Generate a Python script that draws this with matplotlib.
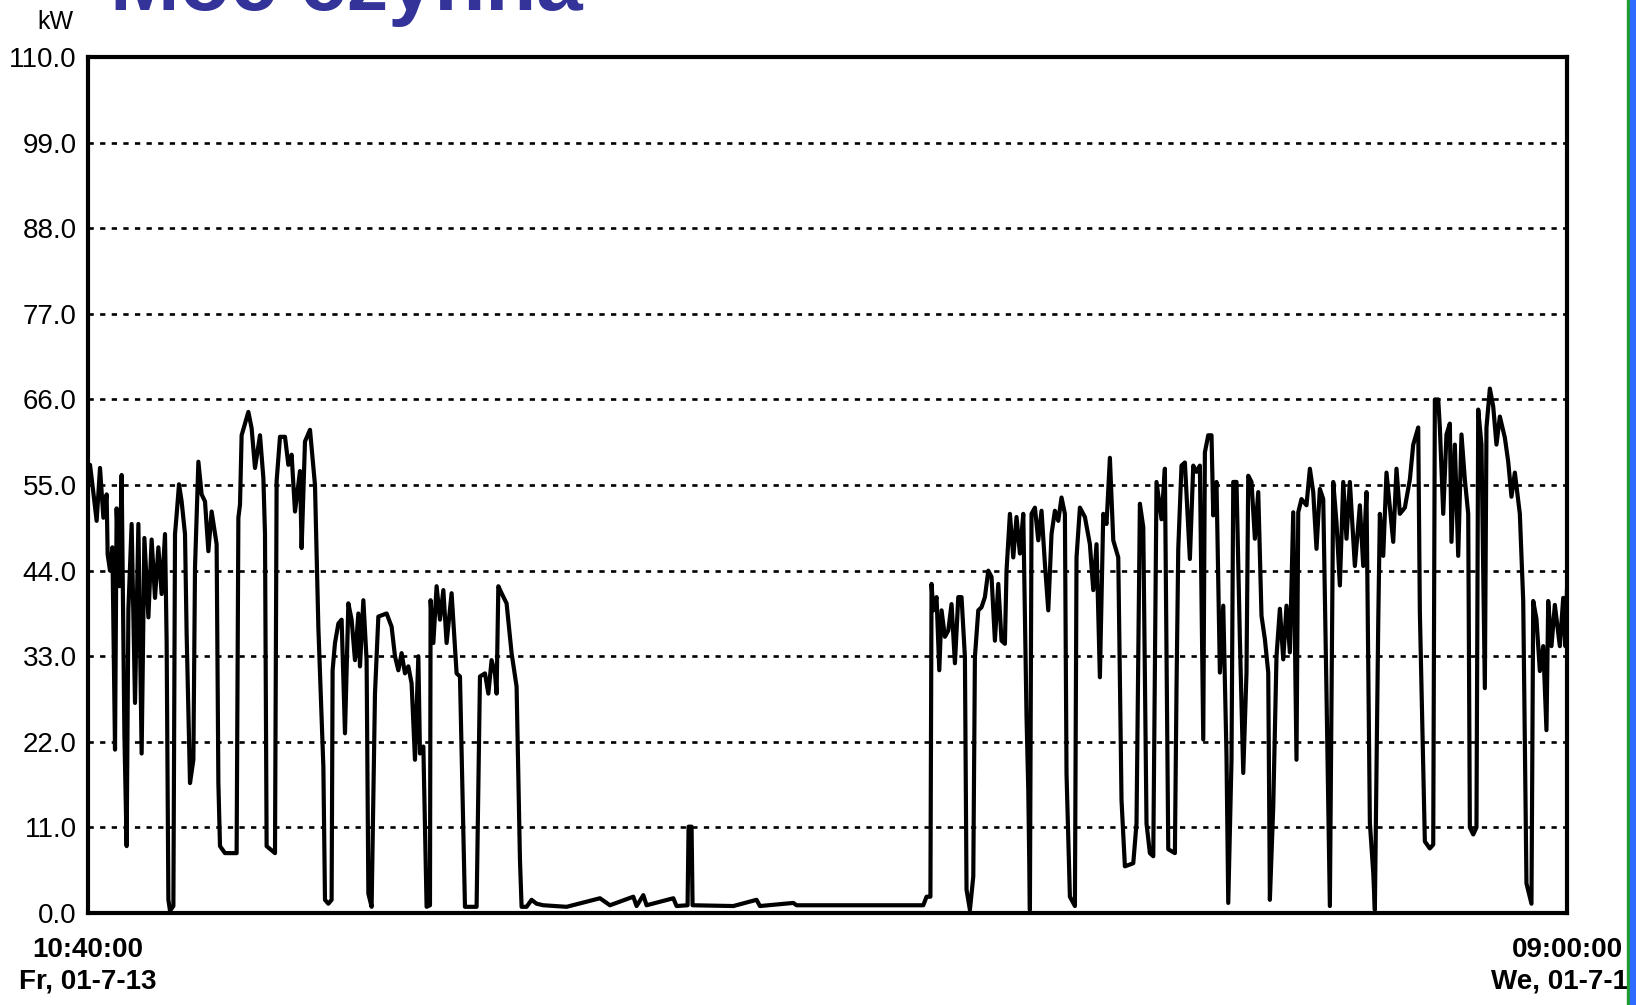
import matplotlib
matplotlib.use("Agg")
import matplotlib.pyplot as plt
from matplotlib import font_manager
from matplotlib.patches import Rectangle

# Active power, hours since Fri 01-7-13 10:40:00
fri_sat_h = [0.00, 0.16, 0.43, 0.69, 0.96, 1.23, 1.49, 1.57, 1.76, 1.95,
             2.16, 2.29, 2.51, 2.69, 2.91, 3.09, 3.23, 3.49, 3.76, 4.03,
             4.29, 4.51, 4.83, 5.09, 5.36, 5.63, 5.89, 6.16, 6.29, 6.43,
             6.56, 6.83, 6.96, 7.09, 7.28, 7.49, 7.76, 7.89, 8.16, 8.43,
             8.56, 8.83, 9.09, 9.36, 9.63, 9.89, 10.29, 10.43, 10.56, 10.96,
             11.89, 12.03, 12.16, 12.29, 12.83, 13.09, 13.36, 13.76, 14.03, 14.16,
             14.29, 14.96, 15.09, 15.36, 15.76, 16.03, 16.29, 16.56, 16.96, 17.09,
             17.36, 17.76, 18.16, 18.43, 18.83, 18.96, 19.23, 19.49, 19.57, 19.76,
             20.03, 20.29, 20.56, 20.83, 21.09, 21.36, 21.63, 21.76, 22.03, 22.29,
             22.43, 22.69, 22.96, 23.23, 23.89, 24.29, 24.56, 24.83, 25.09, 25.36,
             25.63, 25.89, 26.16, 26.43, 26.56, 26.83, 27.09, 27.36, 27.41, 27.63,
             27.89, 28.16, 28.43, 28.69, 29.09, 29.49, 29.76, 30.16, 31.09, 31.36,
             31.76, 32.03, 32.29, 32.56, 32.69, 32.83, 33.09, 33.49, 33.89, 34.29,
             34.56, 34.69, 35.09, 35.49, 35.89]
fri_sat_kw = [56.5, 57.6, 54.0, 50.4, 57.2, 50.8, 53.8, 46.1, 44.0, 47.0,
              21.0, 52.0, 42.0, 56.3, 23.0, 8.6, 39.0, 50.0, 27.0, 50.0,
              20.5, 48.2, 38.0, 48.0, 40.5, 47.0, 41.0, 48.7, 35.0, 1.7,
              0.3, 0.9, 48.7, 51.2, 55.1, 52.9, 48.7, 35.9, 16.7, 19.7,
              44.4, 58.0, 53.8, 52.9, 46.5, 51.6, 47.4, 16.7, 8.6, 7.7,
              7.7, 50.8, 52.5, 61.4, 64.4, 62.3, 57.2, 61.4, 55.9, 48.7,
              8.6, 7.7, 55.5, 61.2, 61.2, 57.6, 58.9, 51.6, 56.8, 46.9,
              60.6, 62.1, 55.0, 36.7, 18.8, 1.7, 1.2, 1.7, 31.2, 34.7,
              37.2, 37.7, 23.1, 39.8, 37.7, 32.5, 38.5, 31.7, 40.2, 32.5,
              2.5, 0.8, 28.2, 38.1, 38.5, 36.8, 33.0, 31.2, 33.4, 30.8,
              31.7, 29.5, 19.7, 33.0, 20.5, 21.4, 0.8, 1.0, 40.2, 34.7,
              42.0, 37.7, 41.5, 34.7, 41.1, 30.8, 30.4, 0.8, 0.8, 30.4,
              30.8, 28.2, 32.5, 30.8, 28.2, 42.0, 41.1, 39.8, 33.4, 29.1,
              6.8, 0.8, 0.8, 1.7, 1.2]

weekend_h = [36.43, 38.29, 40.96, 41.76, 43.63, 43.89, 44.43, 44.69, 46.83, 47.09,
             47.97, 48.05, 48.29, 48.37, 51.63, 53.49, 53.76, 56.43, 56.69, 66.83,
             67.09, 67.40]
weekend_kw = [1.0, 0.8, 1.9, 1.0, 2.1, 0.9, 2.3, 1.0, 1.9, 0.9,
              1.0, 11.1, 11.1, 1.0, 0.9, 1.7, 0.9, 1.3, 1.0, 1.0,
              2.1, 2.1]

week_h = [67.49, 67.63, 67.89, 68.11, 68.29, 68.56, 68.83, 69.09, 69.36, 69.63,
          69.89, 70.16, 70.29, 70.56, 70.83, 70.96, 71.23, 71.49, 71.76, 72.03,
          72.29, 72.56, 72.83, 73.09, 73.36, 73.49, 73.76, 74.03, 74.29, 74.56,
          74.83, 75.09, 75.23, 75.36, 75.49, 75.76, 76.03, 76.29, 76.56, 76.83,
          77.09, 77.36, 77.63, 77.89, 78.16, 78.29, 78.56, 78.96, 79.09, 79.36,
          79.76, 80.16, 80.43, 80.69, 80.96, 81.23, 81.49, 81.76, 82.03, 82.43,
          82.69, 82.96, 83.63, 83.89, 84.16, 84.43, 84.69, 84.96, 85.23, 85.49,
          85.89, 86.16, 86.43, 86.96, 87.09, 87.23, 87.49, 87.76, 88.16, 88.43,
          88.69, 88.96, 89.23, 89.36, 89.63, 89.89, 90.03, 90.29, 90.56, 90.83,
          91.09, 91.23, 91.49, 91.63, 91.89, 92.16, 92.43, 92.69, 92.83, 93.09,
          93.36, 93.63, 93.89, 94.16, 94.43, 94.56, 94.83, 95.09, 95.36, 95.63,
          95.89, 96.16, 96.43, 96.69, 96.83, 97.09, 97.49, 97.76, 98.03, 98.29,
          98.56, 98.83, 99.09, 99.36, 99.63, 99.89, 100.16, 100.43, 100.69, 100.96,
          101.36, 101.76, 102.03, 102.29, 102.56, 102.83, 102.96, 103.23, 103.36, 103.63,
          103.89, 104.43, 104.69, 104.96, 105.36, 105.76, 106.03, 106.43, 106.56, 106.69,
          106.96, 107.36, 107.63, 107.76, 108.03, 108.16, 108.43, 108.69, 108.96, 109.09,
          109.36, 109.63, 109.89, 110.16, 110.43, 110.56, 110.83, 111.09, 111.23, 111.49,
          111.76, 111.89, 112.16, 112.43, 112.69, 112.96, 113.36, 113.63, 113.89, 114.16,
          114.56, 114.83, 115.09, 115.49, 115.63, 115.89, 116.16, 116.43, 116.69, 116.83,
          117.09, 117.36, 117.76, 118.03, 118.20, 118.33]
week_kw = [42.3, 38.9, 40.6, 31.2, 38.9, 35.5, 36.3, 39.7, 32.1, 40.6,
           40.6, 32.9, 3.0, 0.4, 4.7, 32.9, 38.9, 39.3, 40.6, 44.0,
           43.2, 35.0, 42.3, 35.0, 34.6, 44.0, 51.3, 45.7, 50.9, 46.2,
           51.3, 25.2, 15.8, 0.4, 51.3, 52.1, 47.9, 51.7, 44.9, 38.9,
           48.7, 51.7, 50.4, 53.4, 51.3, 17.9, 2.1, 0.9, 45.7, 52.1,
           50.9, 47.4, 41.5, 47.4, 30.3, 51.3, 50.0, 58.5, 47.9, 45.7,
           14.5, 6.0, 6.4, 11.5, 52.6, 49.6, 11.5, 7.7, 7.3, 55.4,
           50.6, 57.1, 8.2, 7.7, 28.8, 46.8, 57.5, 57.9, 45.5, 57.5,
           56.7, 57.5, 22.3, 59.2, 61.4, 61.4, 51.1, 55.4, 30.9, 39.5,
           20.2, 1.3, 19.7, 55.4, 55.4, 35.2, 18.0, 30.9, 56.2, 55.4,
           48.1, 54.1, 38.2, 35.2, 30.9, 1.7, 13.7, 33.0, 39.1, 32.6,
           39.5, 33.5, 51.5, 19.7, 51.5, 53.2, 52.4, 57.1, 54.1, 46.8,
           54.5, 53.2, 28.3, 0.9, 55.4, 50.2, 42.1, 55.4, 48.1, 55.4,
           44.6, 52.4, 44.6, 54.1, 11.6, 5.2, 0.4, 37.3, 51.3, 45.9,
           56.6, 47.7, 57.1, 51.3, 52.1, 55.7, 60.2, 62.4, 38.7, 28.9,
           9.2, 8.3, 8.8, 66.0, 66.0, 62.4, 51.3, 61.5, 62.9, 47.7,
           60.2, 45.9, 61.5, 55.7, 51.3, 11.0, 10.1, 11.0, 64.7, 60.2,
           28.9, 62.4, 67.4, 65.1, 60.2, 63.8, 61.1, 58.0, 53.5, 56.6,
           51.3, 40.1, 3.8, 1.2, 40.1, 37.8, 31.1, 34.3, 23.5, 40.1,
           34.3, 39.6, 34.3, 40.5, 34.3, 41.4]

y_ticks = [0, 11, 22, 33, 44, 55, 66, 77, 88, 99, 110]
x_end = 118.33  # We 01-7-18 09:00:00
x_labels = ["10:40:00\nFr, 01-7-13", "09:00:00\nWe, 01-7-18"]


def pick_font(names):
    available = {f.name for f in font_manager.fontManager.ttflist}
    for name in names:
        if name in available:
            return name
    return "DejaVu Sans"


narrow = pick_font(["Liberation Sans Narrow", "Arial Narrow", "Liberation Sans"])
sans = pick_font(["Liberation Sans", "Arial"])

hours = fri_sat_h + weekend_h + week_h
kw = fri_sat_kw + weekend_kw + week_kw

fig = plt.figure(figsize=(16.36, 10.05), dpi=100)
ax = fig.add_axes([0.0538, 0.0915, 0.9040, 0.8517])

for v in y_ticks[1:-1]:
    ax.axhline(v, color="black", lw=1.9, ls=(0, (2.0, 2.4)), zorder=1)
ax.plot(hours, kw, color="black", lw=3.0, zorder=3)

ax.set_xlim(0, x_end)
ax.set_ylim(0, 110)
ax.set_yticks(y_ticks)
ax.set_yticklabels([f"{v:.1f}" for v in y_ticks], fontfamily=narrow, fontsize=20)
ax.set_xticks([0, x_end])
ax.set_xticklabels(x_labels, fontfamily=narrow, fontsize=20, fontweight="bold",
                   linespacing=1.3)
ax.tick_params(axis="y", length=0, pad=8)
ax.tick_params(axis="x", length=0, pad=17)
for s in ax.spines.values():
    s.set_linewidth(3)
    s.set_zorder(4)

fig.text(55 / 1636, 1 - 22 / 1005, "kW", fontfamily=narrow, fontsize=18,
         ha="center", va="center")
fig.text(110 / 1636, 1 - 10 / 1005, "Moc czynna", fontfamily=sans, fontsize=60,
         fontweight="bold", color="#333399", ha="left", va="baseline")

# slide border on the right edge
fig.add_artist(Rectangle((1627 / 1636, 0), 2.5 / 1636, 1, transform=fig.transFigure,
                         color="#1e9e2a", zorder=20))
fig.add_artist(Rectangle((1629.5 / 1636, 0), 6.5 / 1636, 1, transform=fig.transFigure,
                         color="#2f6bff", zorder=20))

fig.savefig("out.png", dpi=100)
